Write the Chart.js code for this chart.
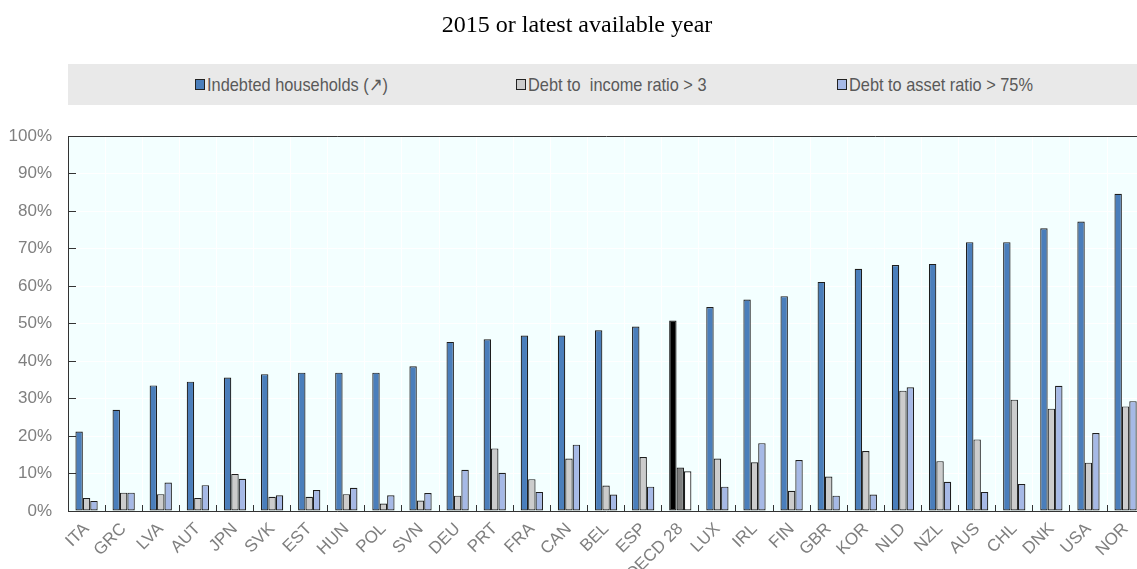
<!DOCTYPE html>
<html>
<head>
<meta charset="utf-8">
<script src="https://cdn.jsdelivr.net/npm/chart.js@4.4.1/dist/chart.umd.min.js"></script>
<style>
  html, body { margin:0; padding:0; overflow:hidden; background:#fff; width:1137px; height:569px; }
  #wrap { position:relative; width:1137px; height:569px; overflow:hidden; }
  canvas { position:absolute; left:0; top:0; }
  #legend { position:absolute; left:68px; top:64px; right:0; height:41px; background:#e9e9e9; overflow:hidden; }
  .item { position:absolute; top:0; height:41px; display:flex; align-items:center; white-space:pre;
          font-family:'Liberation Sans',Arial,sans-serif; font-size:19px; color:#595959; }
  .box { width:10px; height:11px; border:1px solid #222; box-sizing:border-box; margin-right:2px; flex:none; }
  .txt { display:inline-block; transform:scaleX(0.86); transform-origin:left center; }
</style>
</head>
<body>
<div id="wrap">
  <canvas id="c" width="1154" height="569"></canvas>
  <div id="legend"></div>
</div>
<script>
const categories = ['ITA','GRC','LVA','AUT','JPN','SVK','EST','HUN','POL','SVN','DEU','PRT','FRA','CAN','BEL','ESP','OECD 28','LUX','IRL','FIN','GBR','KOR','NLD','NZL','AUS','CHL','DNK','USA','NOR'];
const indebtedHouseholds = [21.2, 27.0, 33.5, 34.5, 35.6, 36.5, 36.9, 36.9, 36.9, 38.6, 45.1, 45.8, 46.8, 46.8, 48.2, 49.2, 50.8, 54.4, 56.4, 57.3, 61.1, 64.6, 65.6, 65.9, 71.7, 71.7, 75.4, 77.2, 84.6];
const debtToIncome = [3.5, 4.9, 4.5, 3.5, 9.9, 3.8, 3.8, 4.5, 2.0, 2.8, 4.1, 16.7, 8.5, 14.0, 6.8, 14.4, 11.6, 14.0, 13.0, 5.4, 9.2, 16.0, 32.1, 13.3, 19.1, 29.7, 27.3, 12.9, 27.9];
const debtToAsset = [2.7, 4.9, 7.6, 6.9, 8.6, 4.2, 5.6, 6.2, 4.2, 4.8, 11.0, 10.2, 5.1, 17.7, 4.4, 6.5, 10.6, 6.5, 18.1, 13.6, 4.1, 4.4, 33.0, 7.8, 5.1, 7.2, 33.4, 20.8, 29.3];
const seriesLabels = ['Indebted households (\u2197)', 'Debt to  income ratio > 3', 'Debt to asset ratio > 75%'];
const yTicks = [0,10,20,30,40,50,60,70,80,90,100];
const highlight = 'OECD 28';

const FONT = "'Liberation Sans',Arial,sans-serif";
const hiIdx = categories.indexOf(highlight);
const colorFor = (normal, special) => ctx => (ctx.dataIndex === hiIdx ? special : normal);

const plotBg = {
  id: 'plotBg',
  beforeDraw(chart) {
    const {ctx, chartArea: a} = chart;
    ctx.save();
    ctx.fillStyle = '#F3FFFF';
    ctx.fillRect(a.left, a.top, a.right - a.left, a.bottom - a.top);
    ctx.restore();
  }
};

const chart = new Chart(document.getElementById('c'), {
  type: 'bar',
  data: {
    labels: categories,
    datasets: [
      { label: seriesLabels[0], data: indebtedHouseholds, backgroundColor: colorFor('#4A7EBB', '#000000') },
      { label: seriesLabels[1], data: debtToIncome, backgroundColor: colorFor('#CCCCCC', '#7F7F7F') },
      { label: seriesLabels[2], data: debtToAsset, backgroundColor: colorFor('#A6B9E6', '#FFFFFF') }
    ]
  },
  options: {
    responsive: false,
    animation: false,
    layout: { padding: 0 },
    datasets: {
      bar: { categoryPercentage: 0.6, barPercentage: 1.0, borderWidth: 1.2, borderColor: '#1E1E1E', borderSkipped: false }
    },
    plugins: {
      legend: { display: false },
      tooltip: { enabled: false },
      title: {
        display: true,
        text: '2015 or latest available year',
        color: '#000',
        font: { family: "'Liberation Serif','Times New Roman',serif", size: 24, weight: 'normal' },
        padding: { top: 11, bottom: 96.2 }
      }
    },
    scales: {
      x: {
        offset: true,
        grid: { offset: true, color: '#FFFFFF', tickColor: '#333333', tickLength: -6, lineWidth: 1 },
        border: { display: true, color: '#333333', width: 1 },
        ticks: {
          autoSkip: false, minRotation: 45, maxRotation: 45, padding: 14,
          color: '#7F7F7F', font: { family: FONT, size: 17 }
        },
        afterFit(s) { s.height = 58; }
      },
      y: {
        min: 0, max: 100,
        afterBuildTicks(s) { s.ticks = yTicks.map(v => ({ value: v })); },
        grid: {
          color: c => (c.tick && c.tick.value === 100 ? '#333333' : '#FFFFFF'),
          tickColor: '#333333', tickLength: -8, lineWidth: 1
        },
        border: { display: true, color: '#333333', width: 1 },
        ticks: {
          padding: 24, color: '#7F7F7F', font: { family: FONT, size: 17 },
          callback: v => v + '%'
        },
        afterFit(s) { s.width = 68; }
      }
    }
  },
  plugins: [plotBg]
});

// HTML legend built from the chart's own legend items
const legendEl = document.getElementById('legend');
const items = Chart.defaults.plugins.legend.labels.generateLabels(chart);
items.forEach((it, i) => {
  const d = document.createElement('div');
  d.className = 'item';
  d.style.left = (127 + i * 321) + 'px';
  const b = document.createElement('span');
  b.className = 'box';
  b.style.background = it.fillStyle;
  const t = document.createElement('span');
  t.className = 'txt';
  t.textContent = it.text;
  d.appendChild(b); d.appendChild(t);
  legendEl.appendChild(d);
});
</script>
</body>
</html>
